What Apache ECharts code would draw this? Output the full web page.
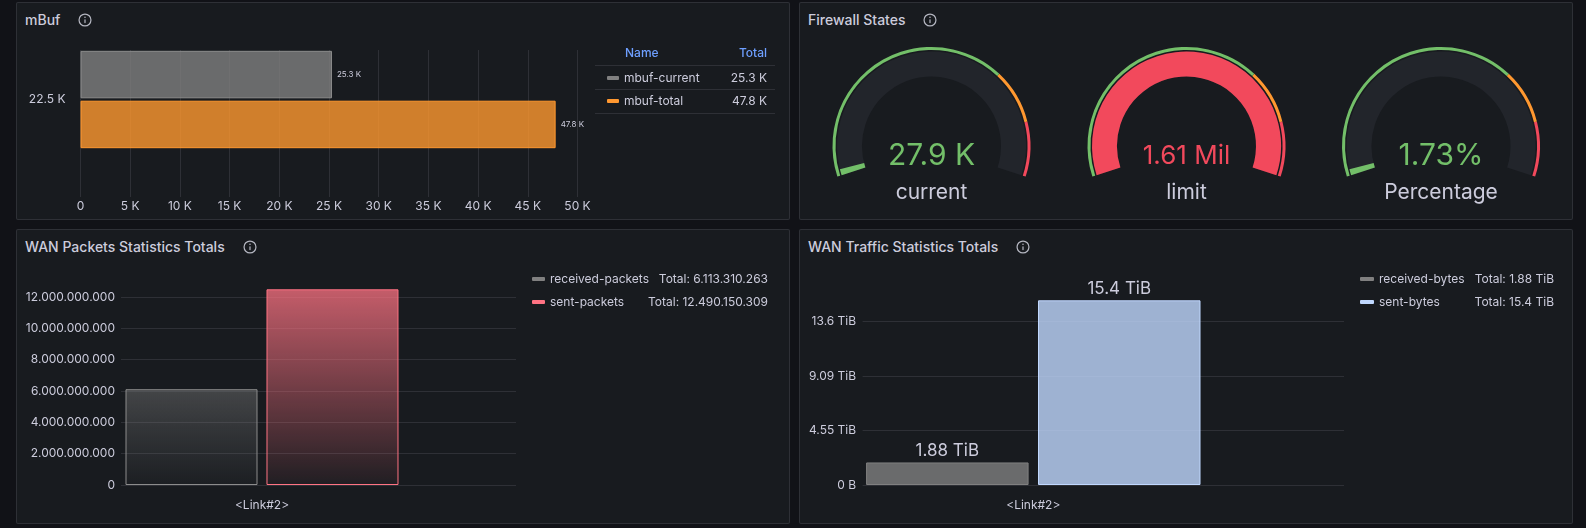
<!DOCTYPE html>
<html>
<head>
<meta charset="utf-8">
<script src="https://cdn.jsdelivr.net/npm/echarts@6/dist/echarts.min.js"></script>
<style>
  html, body { margin: 0; padding: 0; background: #111217; width: 1586px; height: 528px; overflow: hidden; font-family: Inter, sans-serif; }
  .panel { position: absolute; background: #181b1f; border: 1px solid rgba(204,204,220,0.12); border-radius: 2px; box-sizing: border-box; }
  .ptitle { position: absolute; left: 8px; top: 8px; height: 18px; line-height: 18px; color: #ccccdc; font-size: 14px; font-weight: 500; white-space: nowrap; display: flex; align-items: center; }
  .ptitle svg { margin-left: 18px; }
  #chart { position: absolute; left: 0; top: 0; width: 1586px; height: 528px; }
</style>
</head>
<body>
<div class="panel" style="left:16px;top:2px;width:774px;height:218px"><div class="ptitle">mBuf<svg width="14" height="14" viewBox="0 0 16 16"><circle cx="8" cy="8" r="6.8" fill="none" stroke="#b4b6c0" stroke-width="1.4"/><rect x="7.3" y="7" width="1.4" height="4.6" rx="0.7" fill="#b4b6c0"/><circle cx="8" cy="4.9" r="0.9" fill="#b4b6c0"/></svg></div></div>
<div class="panel" style="left:799px;top:2px;width:774px;height:218px"><div class="ptitle">Firewall States<svg width="14" height="14" viewBox="0 0 16 16"><circle cx="8" cy="8" r="6.8" fill="none" stroke="#b4b6c0" stroke-width="1.4"/><rect x="7.3" y="7" width="1.4" height="4.6" rx="0.7" fill="#b4b6c0"/><circle cx="8" cy="4.9" r="0.9" fill="#b4b6c0"/></svg></div></div>
<div class="panel" style="left:16px;top:229px;width:774px;height:295px"><div class="ptitle">WAN Packets Statistics Totals<svg width="14" height="14" viewBox="0 0 16 16"><circle cx="8" cy="8" r="6.8" fill="none" stroke="#b4b6c0" stroke-width="1.4"/><rect x="7.3" y="7" width="1.4" height="4.6" rx="0.7" fill="#b4b6c0"/><circle cx="8" cy="4.9" r="0.9" fill="#b4b6c0"/></svg></div></div>
<div class="panel" style="left:799px;top:229px;width:774px;height:295px"><div class="ptitle">WAN Traffic Statistics Totals<svg width="14" height="14" viewBox="0 0 16 16"><circle cx="8" cy="8" r="6.8" fill="none" stroke="#b4b6c0" stroke-width="1.4"/><rect x="7.3" y="7" width="1.4" height="4.6" rx="0.7" fill="#b4b6c0"/><circle cx="8" cy="4.9" r="0.9" fill="#b4b6c0"/></svg></div></div>
<div id="chart"></div>
<script>
// mBuf
const mbufCategories = ["22.5 K"];
const mbufNames = ["mbuf-current", "mbuf-total"];
const mbufValues = [25300, 47800];
const mbufColors = ["#808080", "#FF9830"];

// Firewall States
const gaugeNames = ["current", "limit", "Percentage"];
const gaugeValues = [27900, 1610000, 1.73];
const gaugeMax = [1610000, 1610000, 100];
const gaugeCenters = [931.5, 1186.5, 1441];
const gaugeFontSizes = [30, 26, 30];
const gaugeThresholds = [[0.7, "#73BF69"], [0.85, "#FF9830"], [1, "#F2495C"]];

// WAN totals
const linkCategories = ["<Link#2>"];
const packetNames = ["received-packets", "sent-packets"];
const packetValues = [6113310263, 12490150309];
const packetColors = ["#808080", "#FF7383"];
const byteNames = ["received-bytes", "sent-bytes"];
const byteValues = [2.067e12, 1.6933e13];
const byteColors = ["#808080", "#C0D8FF"];

const textColor = "#ccccdc";
const gridColor = "rgba(204,204,220,0.12)";
const font = "Inter, sans-serif";

function fmtKAxis(v) { return v === 0 ? "0" : v / 1000 + " K"; }
function fmtK(v) { return (v / 1000).toFixed(1) + " K"; }
function fmtDots(v) { return Math.round(v).toString().replace(/\B(?=(\d{3})+(?!\d))/g, "."); }
function fmtTiB(v) { return v === 0 ? "0 B" : (v / Math.pow(2, 40)).toPrecision(3) + " TiB"; }
function fmtGauge(v, i) {
  if (i === 0) return (v / 1000).toFixed(1) + " K";
  if (i === 1) return (v / 1e6).toFixed(2) + " Mil";
  return v.toFixed(2) + "%";
}
function thresholdColor(frac) {
  for (const t of gaugeThresholds) if (frac <= t[0]) return t[1];
  return gaugeThresholds[gaugeThresholds.length - 1][1];
}
function rgba(hex, a) {
  const n = parseInt(hex.slice(1), 16);
  return "rgba(" + (n >> 16) + "," + ((n >> 8) & 255) + "," + (n & 255) + "," + a + ")";
}

const packetMax = Math.max(...packetValues);
const byteMax = Math.max(...byteValues);

const axisText = { color: textColor, fontSize: 12, fontFamily: font };

const gaugeSeries = [];
gaugeNames.forEach(function (name, i) {
  const frac = gaugeValues[i] / gaugeMax[i];
  const c = thresholdColor(frac);
  const base = {
    type: "gauge",
    center: [gaugeCenters[i], 146],
    startAngle: 198,
    endAngle: -18,
    min: 0,
    max: gaugeMax[i],
    splitLine: { show: false },
    axisTick: { show: false },
    axisLabel: { show: false },
    pointer: { show: false },
    anchor: { show: false },
  };
  // threshold ring
  gaugeSeries.push(Object.assign({}, base, {
    radius: 99,
    axisLine: { lineStyle: { width: 3, color: gaugeThresholds } },
    title: { show: false },
    detail: { show: false },
    data: [{ value: gaugeValues[i] }],
  }));
  // track + value bar
  gaugeSeries.push(Object.assign({}, base, {
    radius: 94.5,
    axisLine: { lineStyle: { width: 25, color: [[1, "#22252b"]] } },
    progress: { show: true, width: 25, itemStyle: { color: c } },
    title: { offsetCenter: [0, 47], fontSize: 21, color: textColor, fontFamily: font },
    detail: {
      offsetCenter: [0, 10], fontSize: gaugeFontSizes[i], color: c, fontFamily: font, fontWeight: 400,
      formatter: function (v) { return fmtGauge(v, i); },
    },
    data: [{ value: gaugeValues[i], name: name }],
  }));
});

const mbufSeries = mbufNames.map(function (name, i) {
  return {
    type: "bar", name: name, xAxisIndex: 1, yAxisIndex: 1,
    data: [mbufValues[i]],
    barWidth: 47.5, barGap: "5%",
    itemStyle: { color: rgba(mbufColors[i], 0.8), borderColor: i === 0 ? "#8c8c8c" : mbufColors[i], borderWidth: 1 },
    label: { show: true, position: "right", distance: 5, fontSize: 8, color: textColor, fontFamily: font,
      formatter: function (p) { return fmtK(p.value); } },
  };
});

const packetSeries = packetNames.map(function (name, i) {
  const top = i === 0 ? 0.42 : 0.75;
  return {
    type: "bar", name: name, xAxisIndex: 3, yAxisIndex: 3,
    data: [packetValues[i]],
    barWidth: 132, barGap: "6.8%",
    itemStyle: {
      color: { type: "linear", x: 0, y: 0, x2: 0, y2: 1,
        colorStops: [{ offset: 0, color: rgba(packetColors[i], top) }, { offset: 1, color: rgba(packetColors[i], 0.04) }] },
      borderColor: i === 0 ? "#8c8c8c" : packetColors[i], borderWidth: 1,
    },
  };
});

const byteSeries = byteNames.map(function (name, i) {
  return {
    type: "bar", name: name, xAxisIndex: 5, yAxisIndex: 5,
    data: [byteValues[i]],
    barWidth: 162.5, barGap: "5.8%",
    itemStyle: { color: rgba(byteColors[i], 0.8), borderColor: byteColors[i], borderWidth: 1 },
    label: { show: true, position: "top", distance: 3, fontSize: 17, color: textColor, fontFamily: font,
      formatter: function (p) { return fmtTiB(p.value); } },
  };
});

function legendFor(names, values, colors, fmt, left, top, nameW, valW, iconW) {
  return {
    orient: "vertical", left: left, top: top, padding: 0,
    itemWidth: iconW, itemHeight: 4, itemGap: 7, icon: "roundRect", selectedMode: false,
    data: names.map(function (n, i) { return { name: n, itemStyle: { color: colors[i], borderWidth: 0 } }; }),
    formatter: function (n) { return "{n|" + n + "}{v|" + fmt(values[names.indexOf(n)]) + "}"; },
    textStyle: {
      color: textColor, fontSize: 12, lineHeight: 16, fontFamily: font,
      rich: {
        n: { width: nameW, color: textColor, fontSize: 12, lineHeight: 16, fontFamily: font },
        v: { width: valW, align: "right", color: textColor, fontSize: 12, lineHeight: 16, fontFamily: font },
      },
    },
  };
}

const options = {
  animation: false,
  backgroundColor: "transparent",
  textStyle: { fontFamily: font },
  legend: [
    legendFor(mbufNames, mbufValues, mbufColors, fmtK, 607, 70, 100, 43, 12),
    legendFor(packetNames, packetValues, packetColors, function (v) { return "Total: " + fmtDots(v); }, 532, 271, 100, 118, 13),
    legendFor(byteNames, byteValues, byteColors, function (v) { return "Total: " + fmtTiB(v); }, 1360, 271, 90, 85, 14),
  ],
  grid: [
    { left: 80.5, top: 50, width: 497, height: 147 },
    { left: 80.5, top: 50, width: 497, height: 99 },
    { left: 121, top: 289.3, width: 395, height: 195.7 },
    { left: 121, top: 289.3, width: 282, height: 195.7 },
    { left: 862.6, top: 300.3, width: 481.4, height: 184.7 },
    { left: 862.6, top: 300.3, width: 341.4, height: 184.7 },
  ],
  xAxis: [
    { gridIndex: 0, type: "value", min: 0, max: 50000, interval: 5000,
      axisLine: { show: false }, axisTick: { show: false },
      axisLabel: Object.assign({ formatter: fmtKAxis, margin: 3 }, axisText),
      splitLine: { show: true, lineStyle: { color: gridColor } } },
    { gridIndex: 1, type: "value", min: 0, max: 50000, show: false },
    { gridIndex: 2, type: "value", min: 0, max: 1, show: false },
    { gridIndex: 3, type: "category", data: linkCategories,
      axisLine: { show: false }, axisTick: { show: false },
      axisLabel: Object.assign({ margin: 14 }, axisText) },
    { gridIndex: 4, type: "value", min: 0, max: 1, show: false },
    { gridIndex: 5, type: "category", data: linkCategories,
      axisLine: { show: false }, axisTick: { show: false },
      axisLabel: Object.assign({ margin: 14 }, axisText) },
  ],
  yAxis: [
    { gridIndex: 0, type: "value", min: 0, max: 1, show: false },
    { gridIndex: 1, type: "category", data: mbufCategories, inverse: true,
      axisLine: { show: false }, axisTick: { show: false },
      axisLabel: Object.assign({ margin: 15 }, axisText) },
    { gridIndex: 2, type: "value", min: 0, max: packetMax, interval: 2e9,
      axisLine: { show: false }, axisTick: { show: false },
      axisLabel: Object.assign({ formatter: fmtDots, margin: 6, showMaxLabel: false }, axisText),
      splitLine: { show: true, showMaxLine: false, lineStyle: { color: gridColor } } },
    { gridIndex: 3, type: "value", min: 0, max: packetMax, show: false },
    { gridIndex: 4, type: "value", min: 0, max: byteMax, interval: 5e12,
      axisLine: { show: false }, axisTick: { show: false },
      axisLabel: Object.assign({ formatter: fmtTiB, margin: 6.5, showMaxLabel: false }, axisText),
      splitLine: { show: true, showMaxLine: false, lineStyle: { color: gridColor } } },
    { gridIndex: 5, type: "value", min: 0, max: byteMax, show: false },
  ],
  graphic: [
    { type: "text", x: 625, y: 53, style: { text: "Name", fill: "#6e9fff", font: "500 12px Inter", verticalAlign: "middle" } },
    { type: "text", x: 767, y: 53, style: { text: "Total", fill: "#6e9fff", font: "500 12px Inter", align: "right", verticalAlign: "middle" } },
    { type: "line", shape: { x1: 595, y1: 65.5, x2: 775, y2: 65.5 }, style: { stroke: gridColor, lineWidth: 1 } },
    { type: "line", shape: { x1: 595, y1: 89.5, x2: 775, y2: 89.5 }, style: { stroke: gridColor, lineWidth: 1 } },
    { type: "line", shape: { x1: 595, y1: 113.5, x2: 775, y2: 113.5 }, style: { stroke: gridColor, lineWidth: 1 } },
  ],
  series: [].concat(mbufSeries, gaugeSeries, packetSeries, byteSeries),
};

document.addEventListener("DOMContentLoaded", function () {
  const chart = echarts.init(document.getElementById("chart"));
  chart.setOption(options);
});
</script>
</body>
</html>
